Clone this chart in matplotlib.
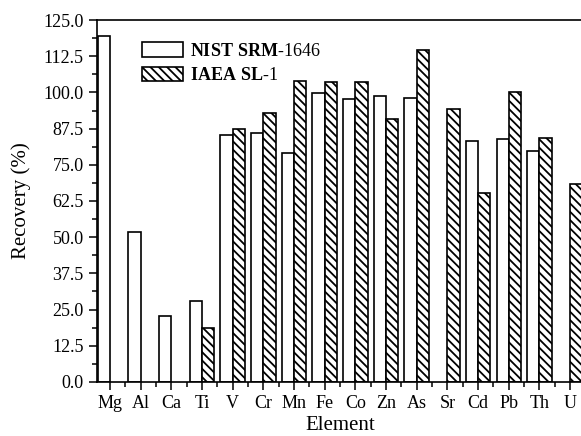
import matplotlib
matplotlib.use('Agg')
import matplotlib.pyplot as plt
from matplotlib.ticker import MultipleLocator, FixedLocator, FormatStrFormatter
import numpy as np

plt.rcParams['font.family'] = 'Liberation Serif'
plt.rcParams['mathtext.fontset'] = 'custom'
plt.rcParams['mathtext.rm'] = 'Liberation Serif'
plt.rcParams['mathtext.bf'] = 'Liberation Serif:bold'
plt.rcParams['hatch.linewidth'] = 1.3

elements = ['Mg', 'Al', 'Ca', 'Ti', 'V', 'Cr', 'Mn', 'Fe', 'Co', 'Zn',
            'As', 'Sr', 'Cd', 'Pb', 'Th', 'U']
# NaN = not reported
nist = [119.5, 51.8, 22.8, 28.1, 85.3, 85.9, 79.1, 99.7, 97.8, 98.9,
        98.2, np.nan, 83.3, 83.9, 79.8, np.nan]
iaea = [np.nan, np.nan, np.nan, 18.8, 87.2, 93.0, 103.8, 103.7, 103.7, 90.8,
        114.5, 94.4, 65.4, 100.2, 84.4, 68.2]

fig = plt.figure(figsize=(5.81, 4.36), dpi=100)
ax = fig.add_axes([0.167, 0.124, 0.8365, 0.830])

x = np.arange(len(elements))
w = 0.4
ax.bar(x - w / 2, nist, w, color='white', edgecolor='black', linewidth=1.2,
       label=r'$\mathbf{NIST\ SRM}$-1646')
ax.bar(x + w / 2, iaea, w, color='white', edgecolor='black', linewidth=1.2,
       hatch='\\\\\\\\', label=r'$\mathbf{IAEA\ SL}$-1')

ax.set_xlim(-0.42, 15.42)
ax.set_ylim(0, 125)
ax.set_xticks(x)
ax.set_xticklabels(elements, fontsize=13)
# minor ticks between the elements
ax.xaxis.set_minor_locator(FixedLocator(x[:-1] + 0.5))
ax.yaxis.set_major_locator(MultipleLocator(12.5))
ax.yaxis.set_minor_locator(MultipleLocator(6.25))
ax.yaxis.set_major_formatter(FormatStrFormatter('%.1f'))
ax.tick_params(axis='y', labelsize=13)
ax.tick_params(which='major', direction='out', length=6, width=1.1)
ax.tick_params(which='minor', direction='out', length=3.5, width=1.1)

for s in ax.spines.values():
    s.set_linewidth(1.2)
ax.spines['right'].set_visible(False)

ax.set_ylabel('Recovery (%)', fontsize=15, labelpad=9)
ax.set_xlabel('Element', fontsize=15, labelpad=3)

ax.legend(loc='upper left', bbox_to_anchor=(0.092, 0.939), frameon=False,
          fontsize=13, handlelength=2.3, handleheight=0.85, borderpad=0,
          borderaxespad=0, labelspacing=0.4, handletextpad=0.35)

plt.savefig('out.png', dpi=100)
